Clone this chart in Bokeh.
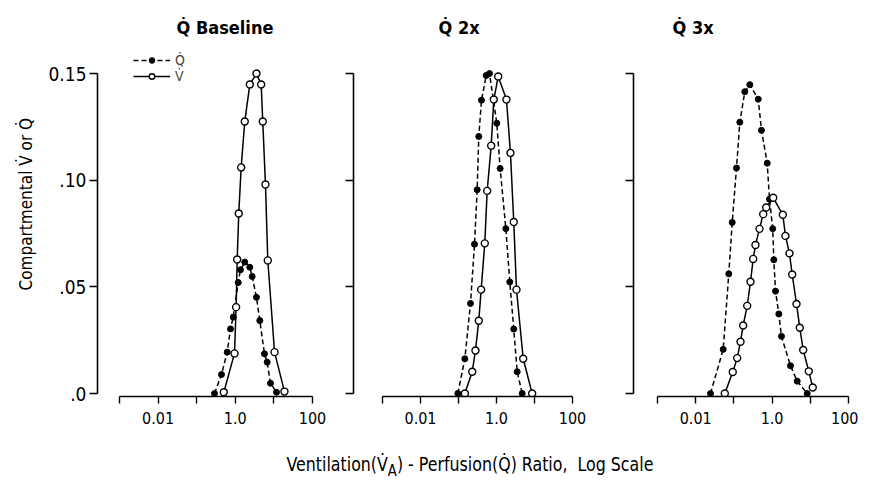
from bokeh.plotting import figure
from bokeh.models import FixedTicker, Range1d, Legend, LegendItem, Div, Title
from bokeh.layouts import row, column
from bokeh.embed import file_html
from bokeh.resources import INLINE

FONT = "DejaVu Sans Condensed"

# ---------------- data (VA/Q ratio, compartment fraction) ----------------
titles = ["Q\u0307 Baseline", "Q\u0307 2x", "Q\u0307 3x"]

base_q_ratio = [0.289, 0.439, 0.617, 0.752, 0.883, 1.19, 1.36, 1.76, 2.38, 2.74, 3.54, 4.32, 5.70, 6.70, 8.17, 11.7]
base_q_val = [0.0, 0.0089, 0.0194, 0.0303, 0.0358, 0.052, 0.058, 0.0616, 0.0592, 0.0549, 0.0451, 0.0342, 0.0186, 0.0147, 0.0048, 0.0006]
base_v_ratio = [0.504, 0.955, 1.05, 1.12, 1.23, 1.42, 1.76, 2.38, 3.54, 4.69, 5.15, 6.05, 6.95, 10.4, 18.8]
base_v_val = [0.0006, 0.0188, 0.0405, 0.0628, 0.0844, 0.106, 0.1275, 0.1449, 0.150, 0.1449, 0.1275, 0.098, 0.0624, 0.0194, 0.0009]

x2_q_ratio = [0.096, 0.147, 0.207, 0.264, 0.310, 0.342, 0.403, 0.536, 0.655, 1.02, 1.25, 1.76, 2.24, 2.85, 3.51, 4.74]
x2_q_val = [0.0, 0.0163, 0.0422, 0.070, 0.0955, 0.1205, 0.1375, 0.1491, 0.150, 0.1267, 0.1055, 0.0773, 0.0523, 0.0302, 0.0102, 0.0]
x2_v_ratio = [0.147, 0.230, 0.280, 0.342, 0.395, 0.492, 0.569, 0.726, 0.849, 1.11, 1.83, 2.33, 2.85, 3.36, 5.05, 8.69]
x2_v_val = [0.0, 0.0102, 0.0202, 0.0341, 0.0487, 0.0704, 0.095, 0.1162, 0.1378, 0.1486, 0.1378, 0.1128, 0.0804, 0.0487, 0.0163, 0.0]

x3_q_ratio = [0.0244, 0.0525, 0.0735, 0.0904, 0.117, 0.143, 0.193, 0.261, 0.433, 0.528, 0.745, 0.855, 1.04, 1.11, 1.23, 1.50, 1.76, 3.03, 4.54, 8.30]
x3_q_val = [0.0, 0.0207, 0.0561, 0.0802, 0.1057, 0.1272, 0.1415, 0.1448, 0.138, 0.1234, 0.108, 0.0911, 0.0773, 0.0627, 0.048, 0.0373, 0.0268, 0.013, 0.0058, 0.0]
x3_v_ratio = [0.0578, 0.0935, 0.122, 0.149, 0.175, 0.223, 0.272, 0.320, 0.367, 0.468, 0.585, 0.701, 1.07, 1.91, 2.24, 2.85, 3.36, 4.36, 5.31, 6.52, 9.14, 11.6]
x3_v_val = [0.0, 0.0101, 0.0166, 0.0243, 0.0319, 0.0411, 0.0524, 0.0631, 0.0696, 0.0772, 0.0841, 0.0872, 0.0918, 0.0838, 0.0739, 0.0657, 0.0558, 0.042, 0.0308, 0.0204, 0.0104, 0.0028]

# labelled ticks and unlabelled ticks on the x axis
x_label_ticks = [0.01, 1, 100]
x_plain_ticks = [0.001, 0.1, 10]
x_tick_labels = {0.01: "0.01", 1: "1.0", 100: "100"}
y_ticks = [0.0, 0.05, 0.10, 0.15]
y_tick_labels = {0.0: ".0", 0.05: ".05", 0.10: ".10", 0.15: "0.15"}

panels = [
    (base_q_ratio, base_q_val, base_v_ratio, base_v_val),
    (x2_q_ratio, x2_q_val, x2_v_ratio, x2_v_val),
    (x3_q_ratio, x3_q_val, x3_v_ratio, x3_v_val),
]

# ---------------- layout parameters ----------------
Y0, Y1 = -0.0014, 0.1655
FRAME_H = 356
# (x_start, x_end, frame_width, border_left, border_right, title_offset, show_ylabels)
geo = [
    (10 ** -3.570, 10 ** 2.13, 220, 97, 11, 79, True),
    (10 ** -3.763, 10 ** 2.132, 224, 25, 31, 85, False),
    (10 ** -3.628, 10 ** 2.131, 220, 25, 5, 39, False),
]

figs = []
for i, ((qx, qy, vx, vy), (xs, xe, fw, bl, br, toff, ylab)) in enumerate(zip(panels, geo)):
    p = figure(x_axis_type="log", x_range=Range1d(xs, xe), y_range=Range1d(Y0, Y1),
               frame_width=fw, frame_height=FRAME_H, min_border=0,
               min_border_left=bl, min_border_right=br, min_border_top=40, min_border_bottom=44,
               output_backend="svg", toolbar_location=None, title=titles[i])
    p.outline_line_color = None
    p.grid.visible = False
    p.background_fill_color = "white"
    p.border_fill_color = "white"

    p.title.align = "left"
    p.title.offset = toff
    p.title.standoff = 6
    p.title.text_font = FONT
    p.title.text_font_size = "18px"
    p.title.text_font_style = "bold"
    p.title.text_color = "black"

    xa = p.xaxis[0]
    xa.ticker = FixedTicker(ticks=x_label_ticks, minor_ticks=x_plain_ticks)
    xa.major_label_overrides = x_tick_labels
    xa.bounds = (0.001, 100)
    xa.axis_line_width = 1.6
    xa.major_tick_line_width = 1.4
    xa.major_tick_out = 7
    xa.major_tick_in = 0
    xa.minor_tick_line_width = 1.4
    xa.minor_tick_line_color = "black"
    xa.minor_tick_out = 7
    xa.minor_tick_in = 0
    xa.major_label_text_font = FONT
    xa.major_label_text_font_size = "16px"
    xa.major_label_standoff = 8
    xa.major_label_text_color = "black"

    ya = p.yaxis[0]
    if ylab:
        ya.ticker = FixedTicker(ticks=y_ticks)
        ya.major_label_overrides = y_tick_labels
    else:
        ya.ticker = FixedTicker(ticks=[], minor_ticks=y_ticks)
    ya.bounds = (0, 0.15)
    ya.axis_line_width = 1.6
    ya.major_tick_line_width = 1.4
    ya.major_tick_out = 8
    ya.major_tick_in = 0
    ya.minor_tick_line_width = 1.4
    ya.minor_tick_line_color = "black"
    ya.minor_tick_out = 8
    ya.minor_tick_in = 0
    ya.major_label_text_font = FONT
    ya.major_label_text_font_size = "19px"
    ya.major_label_standoff = 3
    ya.major_label_text_color = "black"

    ql = p.line(qx, qy, line_color="black", line_width=1.5, line_dash="5 3")
    vl = p.line(vx, vy, line_color="black", line_width=1.5)
    qs = p.scatter(qx, qy, size=6, marker="circle", fill_color="black", line_color="black")
    vs = p.scatter(vx, vy, size=7, marker="circle", fill_color="white", line_color="black", line_width=1.4)

    if i == 0:
        leg = Legend(items=[LegendItem(label="Q\u0307", renderers=[ql, qs]),
                            LegendItem(label="V\u0307", renderers=[vl, vs])],
                     location=(36, 312), glyph_width=37, glyph_height=14, padding=0, margin=0,
                     spacing=0, label_standoff=5, label_text_font=FONT, label_text_font_size="14px",
                     border_line_color=None, background_fill_alpha=0)
        p.add_layout(leg)
        ytitle = Title(text="Compartmental V\u0307 or Q\u0307", align="left", offset=106,
                       standoff=20, text_font=FONT, text_font_size="17px",
                       text_font_style="normal", text_color="black")
        p.add_layout(ytitle, "left")
    figs.append(p)

xlabel = Div(text="Ventilation(V\u0307<sub>A</sub>) - Perfusion(Q\u0307) Ratio,&nbsp; Log Scale",
             width=600, height=34, margin=(10, 0, 0, 170),
             styles={"font-family": "'DejaVu Sans Condensed', sans-serif",
                     "font-size": "20px", "text-align": "center", "color": "black",
                     "white-space": "nowrap", "transform": "scaleX(0.88)",
                     "transform-origin": "center"})

layout = column(row(*figs, spacing=0), xlabel, spacing=0)
open("out.html", "w").write(file_html(layout, INLINE))
